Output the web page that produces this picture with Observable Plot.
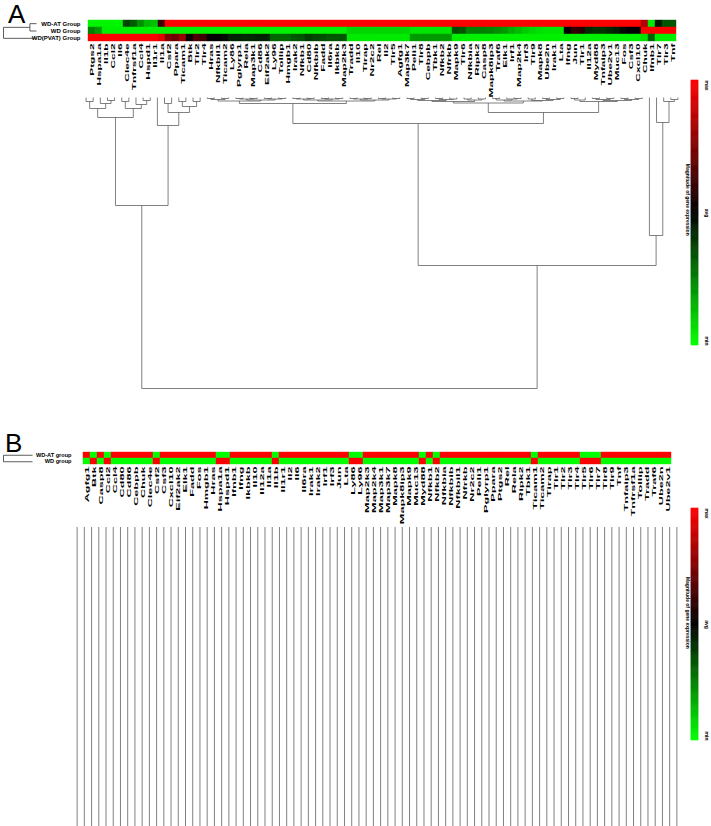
<!DOCTYPE html>
<html><head><meta charset="utf-8">
<script src="https://cdn.jsdelivr.net/npm/d3@7"></script>
<script src="https://cdn.jsdelivr.net/npm/@observablehq/plot@0.6"></script>
<style>
body{margin:0;background:#fff;}
#root{position:relative;width:711px;height:826px;overflow:hidden;background:#fff;font-family:"Liberation Sans",Arial,sans-serif;}
#root > *{position:absolute;left:0;}
.panel-letter{font-size:26px;color:#000;line-height:1;}
</style></head><body><div id="root"></div>
<script>
// ---------------- DATA ----------------
const groupsA = ["WD-AT Group", "WD Group", "WD(PVAT) Group"];
const genesA = ["Ptgs2","Hspa1a","Il1b","Ccl2","Il6","Clec4e","Tnfrsf1a","Ccl4","Hspd1","Il1r1",
"Il1a","Csf2","Ppara","Ticam1","Btk","Tlr2","Tlr4","Hras","Nfkbil1","Ticam2",
"Ly86","Pglyrp1","Rela","Map3k1","Cd86","Eif2ak2","Ly96","Tollip","Hmgb1","Irak2",
"Nfkb1","Cd80","Nfkbib","Fadd","Il6ra","Ikbkb","Map2k3","Tradd","Il10","Tirap",
"Nr2c2","Rel","Il2","Tlr5","Agfg1","Map3k7","Peli1","Tlr8","Cebpb","Tbk1",
"Nfkb2","Nfrkb","Mapk9","Tlr6","Nfkbia","Ripk2","Casp8","Mapk8ip3","Traf6","Elk1",
"Irf1","Map2k4","Irf3","Tlr9","Mapk8","Ube2n","Irak1","Lta","Ifng","Jun",
"Tlr1","Il12a","Myd88","Tnfaip3","Ube2v1","Muc13","Fos","Csf3","Cxcl10","Chuk",
"Ifnb1","Tlr7","Tlr3","Tnf"];
// relative expression: 0 = min (green), 0.5 = avg (black), 1 = max (red)
const wdAtA = [0.02,0.02,0.02,0.02,0.02,0.36,0.32,0.22,0.14,0.12,
0.62,1,1,1,1,1,1,1,1,1,
1,1,1,1,1,1,1,1,1,1,
1,1,1,1,1,1,1,1,1,1,
1,1,1,1,1,1,1,1,1,1,
1,1,1,1,1,1,1,1,1,1,
1,1,1,1,1,1,1,1,1,1,
1,1,1,1,1,1,1,1,1,0.85,
0.04,0.45,0.33,0.33];
const wdA = [0.25,0.2,0.03,0.03,0.03,0.03,0.03,0.03,0.03,0.03,
0.03,0.03,0.03,0.03,0.03,0.03,0.03,0.03,0.03,0.03,
0.03,0.03,0.03,0.03,0.03,0.03,0.03,0.03,0.03,0.03,
0.03,0.03,0.03,0.03,0.03,0.03,0.03,0.08,0.08,0.08,
0.08,0.08,0.08,0.08,0.08,0.08,0.05,0.05,0.05,0.05,
0.05,0.05,0.35,0.33,0.25,0.25,0.25,0.24,0.22,0.2,
0.16,0.13,0.1,0.08,0.06,0.05,0.05,0.05,0.5,0.6,
0.58,0.42,0.4,0.4,0.42,0.44,0.48,0.5,0.5,1,
1,1,1,1];
const pvatA = [1,1,1,1,1,1,1,1,1,1,
0.95,0.75,0.72,0.8,0.52,0.65,0.62,0.5,0.5,0.48,
0.43,0.43,0.42,0.42,0.43,0.43,0.3,0.3,0.3,0.33,
0.34,0.38,0.36,0.35,0.33,0.33,0.33,0.04,0.04,0.04,
0.04,0.04,0.04,0.04,0.04,0.04,0.2,0.2,0.2,0.2,
0.2,0.2,0.03,0.03,0.03,0.03,0.03,0.03,0.03,0.03,
0.03,0.03,0.03,0.03,0.03,0.03,0.03,0.03,0.03,0.03,
0.03,0.03,0.03,0.03,0.03,0.03,0.03,0.03,0.03,0.06,
0.3,0.03,0.03,0.03];
// column dendrogram of panel A: [merge distance, left, right]
const treeA =
[291,
  [108,
    [20,
      [11, [4,"Ptgs2","Hspa1a"], [6,"Il1b",[3,"Ccl2","Il6"]]],
      [11, [4,"Clec4e","Tnfrsf1a"], [7,"Ccl4",[3,"Hspd1","Il1r1"]]]],
    [28, "Il1a",
      [15, [6,"Csf2","Ppara"], [9,[4,"Ticam1","Btk"],[4,"Tlr2","Tlr4"]]]]],
  [168,
    [26,
      [6,
        [3.5, [2,[1,"Hras","Nfkbil1"],[1,"Ticam2","Ly86"]],
              [2.5,[1.5,[1,"Pglyrp1","Rela"],[1,"Map3k1","Cd86"]],[1.5,[1,"Eif2ak2","Ly96"],[1,"Tollip","Hmgb1"]]]],
        [3.5, [2.5,[1.5,[1,"Irak2","Nfkb1"],[1,"Cd80","Nfkbib"]],[1.5,[1,"Fadd","Il6ra"],[1,"Ikbkb","Map2k3"]]],
              [2.5,[1.5,[1,"Tradd","Il10"],[1,"Tirap","Nr2c2"]],[1.5,[1,"Rel","Il2"],[1,"Tlr5","Agfg1"]]]]],
      [15,
        [5.5,
          [4, [3,[2,[1,"Map3k7","Peli1"],[1,"Tlr8","Cebpb"]],[2,[1,"Tbk1","Nfkb2"],[1.5,"Nfrkb","Mapk9"]]],
              [2.5,[1.5,"Tlr6","Nfkbia"],[1.5,"Ripk2","Casp8"]]],
          [3.5, [2.5,[1,"Mapk8ip3","Traf6"],[1.5,"Elk1",[1,"Irf1","Map2k4"]]],
                [3,[1.5,"Irf3","Tlr9"],[2,[1,"Mapk8","Ube2n"],[1,"Irak1","Lta"]]]]],
        [4, [2.5,[1,"Ifng","Jun"],"Tlr1"],
            [3,[2,[1,"Il12a","Myd88"],[1,"Tnfaip3","Ube2v1"]],[2,[1,"Muc13","Fos"],[1,"Csf3","Cxcl10"]]]]]],
    [138, "Chuk", [25, "Ifnb1", [4, "Tlr7", [2, "Tlr3", "Tnf"]]]]]];
const rowTreeA = [30, [6, "WD-AT Group", "WD Group"], "WD(PVAT) Group"];

const groupsB = ["WD-AT group", "WD group"];
const genesB = ["Agfg1","Btk","Casp8","Ccl2","Ccl4","Cd80","Cd86","Cebpb","Chuk","Clec4e",
"Csf2","Csf3","Cxcl10","Eif2ak2","Elk1","Fadd","Fos","Hmgb1","Hras","Hspa1a",
"Hspd1","Ifnb1","Ifng","Ikbkb","Il10","Il12a","Il1a","Il1b","Il1r1","Il2",
"Il6","Il6ra","Irak1","Irak2","Irf1","Irf3","Jun","Lta","Ly86","Ly96",
"Map2k3","Map2k4","Map3k1","Map3k7","Mapk8","Mapk8ip3","Mapk9","Muc13","Myd88","Nfkb1",
"Nfkb2","Nfkbia","Nfkbib","Nfkbil1","Nfrkb","Nr2c2","Peli1","Pglyrp1","Ppara","Ptgs2",
"Rel","Rela","Ripk2","Tbk1","Ticam1","Ticam2","Tirap","Tlr1","Tlr2","Tlr3",
"Tlr4","Tlr5","Tlr6","Tlr7","Tlr8","Tlr9","Tnf","Tnfaip3","Tnfrsf1a","Tollip",
"Tradd","Traf6","Ube2n","Ube2v1"];
const wdAtB = [1,0,1,0,1,1,1,1,1,1, 0,1,1,1,1,1,1,1,1,0, 0,1,1,1,1,1,1,0,1,1,
1,1,1,1,1,1,1,1,0,0, 1,1,1,1,1,1,1,1,0,1, 0,1,1,1,1,1,1,1,1,1,
1,1,1,1,0,1,1,1,1,1, 1,0,0,0,1,1,1,1,1,1, 1,1,1,1];
const wdB = [0,1,0,1,0,0,0,0,0,0, 1,0,0,0,0,0,0,0,0,1, 1,0,0,0,0,0,0,1,0,0,
0,0,0,0,0,0,0,0,1,1, 0,0,0,0,0,0,0,0,1,0, 1,0,0,0,0,0,0,0,0,0,
0,0,0,0,1,0,0,0,0,0, 0,1,1,1,0,0,0,0,0,0, 0,0,0,0];
const joinB = 1;               // all columns of panel B join below the frame
const rowTreeB = [10, "WD-AT group", "WD group"];
const legendLabels = [{label:"max", v:1}, {label:"avg", v:0.5}, {label:"min", v:0}];
const legendTitle = "Magnitude of gene expression";

// ---------------- HELPERS ----------------
const FONT = "Liberation Sans, Arial, sans-serif";
const color = {type:"linear", domain:[0,0.5,1], range:["#00ff00","#000000","#ff0000"], interpolate:"rgb"};
const root = document.getElementById("root");
function place(el, top){ el.style.top = top + "px"; el.style.left = "0px"; root.appendChild(el); return el; }
function layoutTree(tree, order){
  const idx = new Map(order.map((g,i)=>[g,i]));
  const segs = [];
  (function walk(n){
    if (typeof n === "string") return {p: idx.get(n)+0.5, h: 0};
    const [h, a, b] = n;
    const A = walk(a), B = walk(b);
    segs.push({p1:A.p, h1:A.h, p2:A.p, h2:h});
    segs.push({p1:B.p, h1:B.h, p2:B.p, h2:h});
    segs.push({p1:A.p, h1:h, p2:B.p, h2:h});
    return {p:(A.p+B.p)/2, h};
  })(tree);
  return segs;
}
function stretch(svg, sx){
  svg.querySelectorAll('g[aria-label="x-axis tick label"] text').forEach(t => {
    const tr = t.getAttribute("transform") || "";
    t.setAttribute("transform", tr + ` scale(${sx},1)`);
  });
  return svg;
}
const baseStyle = {background:"transparent", fontFamily:FONT, overflow:"visible", color:"#000"};
const lineColor = "#555";

// ---------------- PANEL A ----------------
const letterA = document.createElement("div"); letterA.className="panel-letter"; letterA.textContent="A";
letterA.style.left="8px"; letterA.style.top="1px"; root.appendChild(letterA);

const cellsA = [];
[wdAtA, wdA, pvatA].forEach((vals, gi) => genesA.forEach((g,i) => cellsA.push({gene:g, group:groupsA[gi], value:vals[i]})));
place(stretch(Plot.plot({
  width:711, height:70, marginLeft:82, marginRight:30, marginTop:19.5, marginBottom:28.5,
  style: baseStyle,
  x:{domain:genesA, padding:0}, y:{domain:groupsA, padding:0}, color,
  marks:[
    Plot.cell(cellsA, {x:"gene", y:"group", fill:"value", stroke:"value", strokeWidth:0.4}),
    Plot.axisX({tickRotate:-90, tickSize:0, tickPadding:1.5, fontSize:5.5, fontWeight:"bold", fill:"#000", label:null}),
    Plot.axisY({tickSize:0, tickPadding:2, fontSize:6, fontWeight:"bold", fill:"#000", label:null})
  ]
}), 2.15), 0);

// row dendrogram A
const rowSegsA = layoutTree(rowTreeA, groupsA);
place(Plot.plot({
  width:711, height:826, style:baseStyle,
  x:{domain:[0,30], range:[36,3], axis:null}, y:{domain:[0,3], range:[19.5,41.5], axis:null},
  marks:[Plot.link(rowSegsA, {x1:"h1", y1:"p1", x2:"h2", y2:"p2", stroke:"#333", strokeWidth:0.8})]
}), 0);

// column dendrogram A
const segsA = layoutTree(treeA, genesA);
place(Plot.plot({
  width:711, height:826, style:baseStyle,
  x:{domain:[0,84], range:[82,681], axis:null}, y:{domain:[0,291], range:[97,388], axis:null},
  marks:[Plot.link(segsA, {x1:"p1", y1:"h1", x2:"p2", y2:"h2", stroke:lineColor, strokeWidth:0.75})]
}), 0);

// ---------------- PANEL B ----------------
const letterB = document.createElement("div"); letterB.className="panel-letter"; letterB.textContent="B";
letterB.style.left="5px"; letterB.style.top="430px"; root.appendChild(letterB);

const cellsB = [];
[wdAtB, wdB].forEach((vals, gi) => genesB.forEach((g,i) => cellsB.push({gene:g, group:groupsB[gi], value:vals[i]})));
place(stretch(Plot.plot({
  width:711, height:60, marginLeft:73, marginRight:31, marginTop:11.5, marginBottom:35.5,
  style: baseStyle,
  x:{domain:genesB, padding:0}, y:{domain:groupsB, padding:0}, color,
  marks:[
    Plot.cell(cellsB, {x:"gene", y:"group", fill:"value", stroke:"value", strokeWidth:0.4}),
    Plot.axisX({tickRotate:-90, tickSize:0, tickPadding:1.5, fontSize:5.5, fontWeight:"bold", fill:"#000", label:null}),
    Plot.axisY({tickSize:0, tickPadding:2, fontSize:5.6, fontWeight:"bold", fill:"#000", label:null})
  ]
}), 2.3), 440);

const rowSegsB = layoutTree(rowTreeB, groupsB);
place(Plot.plot({
  width:711, height:826, style:baseStyle,
  x:{domain:[0,10], range:[32,3], axis:null}, y:{domain:[0,2], range:[451.5,464.5], axis:null},
  marks:[Plot.link(rowSegsB, {x1:"h1", y1:"p1", x2:"h2", y2:"p2", stroke:"#333", strokeWidth:0.8})]
}), 0);

place(Plot.plot({
  width:711, height:826, style:baseStyle,
  x:{domain:[0,84], range:[73,680], axis:null}, y:{domain:[0,joinB], range:[527,826], axis:null},
  marks:[Plot.ruleX(genesB, {x:(g,i)=>i+0.5, y1:()=>0, y2:()=>joinB, stroke:lineColor, strokeWidth:0.75})]
}), 0);

// ---------------- LEGENDS ----------------
function legend(top, bottom){
  const steps = d3.range(0, 1, 0.004);
  return Plot.plot({
    width:711, height:826, style:baseStyle,
    x:{domain:[0,1], range:[691,698], axis:null}, y:{domain:[0,1], range:[bottom, top], axis:null}, color,
    marks:[
      Plot.rect(steps, {x1:()=>0, x2:()=>1, y1:d=>d, y2:d=>d+0.004, fill:d=>d, stroke:d=>d, strokeWidth:0.6}),
      Plot.text(legendLabels.filter(d=>d.v===1), {x:()=>2.1, y:"v", text:"label", rotate:90, textAnchor:"start", fontSize:5, fontWeight:"bold", fill:"#000"}),
      Plot.text(legendLabels.filter(d=>d.v===0.5), {x:()=>2.1, y:"v", text:"label", rotate:90, textAnchor:"middle", fontSize:5, fontWeight:"bold", fill:"#000"}),
      Plot.text(legendLabels.filter(d=>d.v===0), {x:()=>2.1, y:"v", text:"label", rotate:90, textAnchor:"end", fontSize:5, fontWeight:"bold", fill:"#000"}),
      Plot.text([legendTitle], {x:()=>-0.6, y:()=>0.55, text:d=>d, rotate:90, textAnchor:"middle", fontSize:5, fontWeight:"bold", fill:"#000"})
    ]
  });
}
place(legend(80, 345), 0);
place(legend(508, 740), 0);
</script></body></html>
